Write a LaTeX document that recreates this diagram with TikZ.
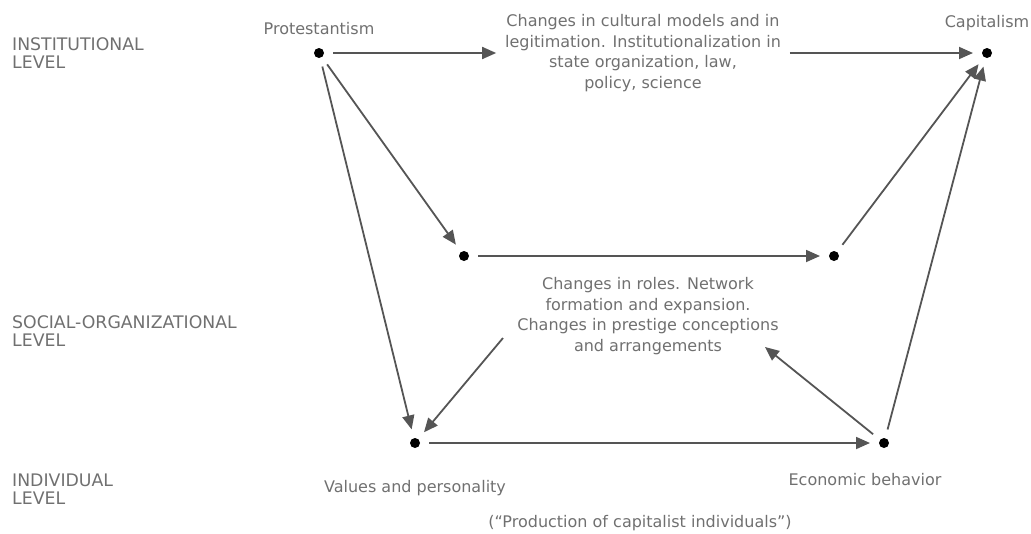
\documentclass[tikz,border=0pt]{standalone}
\usepackage{fontspec}
\setmainfont{DejaVu Sans}
\usetikzlibrary{arrows.meta}
\definecolor{txt}{HTML}{707070}
\definecolor{arrc}{HTML}{555555}
\begin{document}
\begin{tikzpicture}[x=1pt,y=-1pt,
  dot/.style={circle,fill=black,inner sep=0pt,minimum size=10pt,outer sep=9pt},
  lbl/.style={text=txt,font=\fontsize{16}{18}\selectfont,inner sep=0pt},
  lvl/.style={text=txt,font=\fontsize{17.3}{18}\selectfont,inner sep=0pt,align=left,anchor=west},
  blk/.style={text=txt,font=\fontsize{16}{20.8}\selectfont,inner sep=0pt,outer sep=9pt,align=center},
  arr/.style={draw=arrc,line width=1.8pt,-{Triangle[length=14pt,width=12pt]}}]
\useasboundingbox (0,0) rectangle (1031,533);
% level labels
\node[lvl] (L1) at (12,53) {INSTITUTIONAL\\LEVEL};
\node[lvl] (L2) at (12,331) {SOCIAL-ORGANIZATIONAL\\LEVEL};
\node[lvl] (L3) at (12,489) {INDIVIDUAL\\LEVEL};
% dots
\node[dot] (P) at (319,53) {};
\node[dot] (C) at (987,53) {};
\node[dot] (ML) at (464,256) {};
\node[dot] (MR) at (834,256) {};
\node[dot] (V) at (415,443) {};
\node[dot] (E) at (884,443) {};
% labels
\node[lbl] (Pt) at (319,29) {Protestantism};
\node[lbl] (Ct) at (987,23) {Capitalism};
\node[lbl] (Vt) at (415,488) {Values and personality};
\node[lbl] (Et) at (865,480) {Economic behavior};
\node[lbl] (Pr) at (640,523) {(“Production of capitalist individuals”)};
% text blocks
\node[blk] (T) at (643,53) {Changes in cultural models and in\\legitimation. Institutionalization in\\state organization, law,\\policy, science};
\node[blk] (M) at (648,316) {Changes in roles. Network\\formation and expansion.\\Changes in prestige conceptions\\and arrangements};
\coordinate (m1) at (503,338);
\coordinate (m2) at (765,347);
% arrows
\draw[arr] (P) -- (T.west |- P);
\draw[arr] (T.east |- C) -- (C);
\draw[arr] (P) -- (ML);
\draw[arr] (P) -- (V);
\draw[arr] (ML) -- (MR);
\draw[arr] (MR) -- (C);
\draw[arr] (E) -- (C);
\draw[arr] (m1) -- (V);
\draw[arr] (E) -- (m2);
\draw[arr] (V) -- (E);
\end{tikzpicture}
\end{document}
